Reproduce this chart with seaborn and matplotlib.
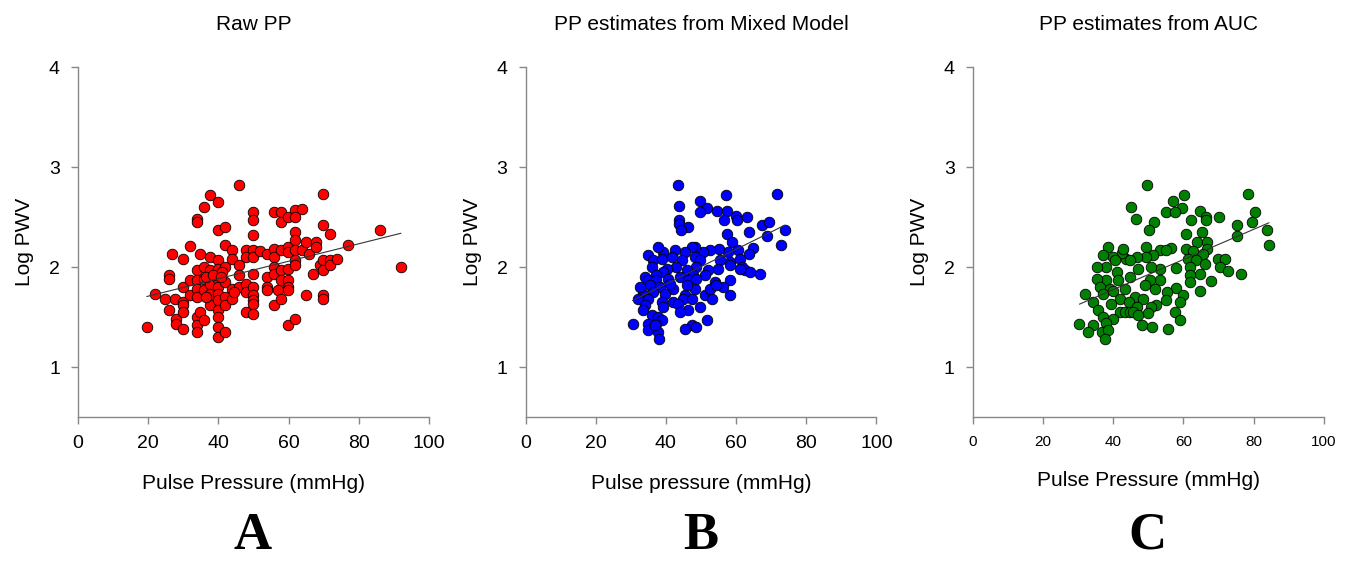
import numpy as np
import pandas as pd
import matplotlib
matplotlib.use("Agg")
import matplotlib.pyplot as plt
import seaborn as sns

# panel A: raw PP
raw_pp = [19.6, 21.8, 24.9, 25.8, 25.8, 25.8, 26.8, 27.7, 27.9, 27.9, 29.8, 29.8, 29.8, 29.8, 29.8, 29.8,
          31.9, 31.9, 31.9, 33.9, 33.9, 33.9, 33.9, 33.9, 33.9, 33.9, 33.9, 33.9, 34.8, 34.8, 35.8, 35.8,
          35.8, 35.8, 36.0, 37.7, 37.7, 37.7, 37.7, 37.7, 37.7, 39.8, 39.8, 39.8, 39.8, 39.8, 39.8, 39.8,
          39.8, 39.8, 39.8, 39.8, 39.8, 42.0, 42.0, 42.0, 42.0, 42.0, 42.0, 42.0, 43.8, 43.8, 43.8, 43.8,
          45.8, 45.8, 45.8, 45.8, 47.9, 47.9, 47.9, 47.9, 47.9, 49.8, 49.8, 49.8, 49.8, 49.8, 49.8, 49.8,
          49.8, 49.8, 49.8, 49.8, 51.9, 53.8, 53.8, 53.8, 53.8, 55.7, 55.7, 55.7, 55.7, 55.7, 55.7, 56.9,
          57.9, 57.9, 57.9, 57.9, 57.9, 57.9, 59.9, 59.9, 59.9, 59.9, 59.9, 59.9, 59.9, 59.9, 61.9, 61.9,
          61.9, 61.9, 61.9, 61.9, 61.9, 61.9, 63.9, 63.9, 64.9, 64.9, 65.8, 66.9, 67.8, 67.8, 69.0, 69.7,
          69.7, 69.7, 69.7, 69.7, 69.7, 71.8, 71.8, 71.8, 73.9, 76.9, 85.9, 92.0,
          36.5, 38.5, 41.0, 44.5, 36.5, 40.8]
raw_pwv = [1.40, 1.73, 1.68, 1.57, 1.92, 1.88, 2.13, 1.68, 1.48, 1.43, 2.08, 1.80, 1.65, 1.62, 1.55, 1.38,
           2.21, 1.87, 1.72, 2.48, 2.45, 1.97, 1.87, 1.78, 1.70, 1.50, 1.42, 1.35, 2.13, 1.55, 2.60, 2.00,
           1.88, 1.77, 1.47, 2.72, 2.10, 1.97, 1.83, 1.73, 1.62, 2.65, 2.37, 2.07, 1.98, 1.88, 1.80, 1.73,
           1.67, 1.57, 1.50, 1.40, 1.30, 2.40, 2.22, 2.00, 1.85, 1.70, 1.62, 1.35, 2.17, 2.08, 1.78, 1.68,
           2.82, 2.02, 1.92, 1.80, 2.17, 2.10, 1.83, 1.75, 1.55, 2.55, 2.47, 2.32, 2.17, 2.10, 1.93, 1.80,
           1.72, 1.67, 1.63, 1.53, 2.16, 2.13, 1.90, 1.80, 1.77, 2.55, 2.18, 2.10, 2.00, 1.93, 1.62, 1.77,
           2.55, 2.45, 2.17, 1.97, 1.87, 1.68, 2.50, 2.20, 2.15, 1.98, 1.87, 1.80, 1.77, 1.42, 2.57, 2.50,
           2.35, 2.27, 2.17, 2.07, 2.02, 1.48, 2.58, 2.17, 2.25, 1.72, 2.13, 1.93, 2.25, 2.20, 2.02, 2.73,
           2.42, 2.07, 1.97, 1.72, 1.68, 2.33, 2.07, 2.02, 2.08, 2.22, 2.37, 2.00,
           1.90, 1.92, 1.95, 1.75, 1.70, 1.90]

# panel B: PP estimates from mixed model
mm_pp = [43.5, 57.1, 71.7, 49.7, 43.8, 51.8, 49.7, 54.6, 57.5, 56.5, 60.1, 63.0, 43.8, 43.8, 46.4, 44.2,
         60.3, 67.5, 69.4, 63.7, 73.9, 68.9, 72.7, 57.3, 58.7, 64.7, 63.7, 60.6, 57.8, 55.2, 52.5, 50.6,
         48.3, 47.3, 45.4, 42.6, 39.2, 37.8, 35.0, 36.4, 38.8, 41.6, 44.5, 48.3, 49.7, 55.4, 58.2, 61.1,
         48.7, 45.9, 43.0, 40.2, 35.9, 54.9, 58.2, 61.6, 62.5, 63.9, 66.8, 52.1, 51.1, 47.8, 39.2, 37.3,
         34.0, 35.0, 37.3, 40.7, 44.0, 46.4, 48.7, 54.0, 58.2, 35.4, 38.3, 42.1, 48.3, 56.3, 33.5, 36.4,
         39.7, 45.4, 51.1, 58.2, 32.1, 35.0, 38.8, 42.1, 45.0, 47.3, 53.0, 34.0, 39.2, 43.5, 49.7, 46.4,
         33.5, 44.0, 35.9, 37.8, 38.8, 51.6, 30.5, 35.0, 37.3, 47.3, 45.4, 48.7, 35.0, 37.8, 38.1, 36.9,
         32.6, 41.1, 45.9, 52.5, 54.4, 61.1]
mm_pwv = [2.82, 2.72, 2.73, 2.66, 2.61, 2.59, 2.55, 2.56, 2.56, 2.47, 2.51, 2.50, 2.47, 2.43, 2.40, 2.37,
          2.47, 2.42, 2.45, 2.35, 2.37, 2.31, 2.22, 2.33, 2.25, 2.19, 2.13, 2.17, 2.15, 2.18, 2.17, 2.15,
          2.20, 2.20, 2.15, 2.17, 2.15, 2.20, 2.12, 2.07, 2.08, 2.10, 2.07, 2.10, 2.07, 2.07, 2.05, 2.08,
          2.00, 1.97, 2.00, 1.98, 2.00, 1.98, 2.02, 2.00, 1.97, 1.95, 1.93, 1.97, 1.92, 1.92, 1.95, 1.92,
          1.90, 1.87, 1.87, 1.88, 1.90, 1.87, 1.88, 1.85, 1.87, 1.82, 1.80, 1.78, 1.78, 1.80, 1.73, 1.75,
          1.73, 1.72, 1.72, 1.72, 1.68, 1.68, 1.65, 1.65, 1.68, 1.68, 1.68, 1.62, 1.60, 1.63, 1.60, 1.57,
          1.57, 1.55, 1.52, 1.50, 1.47, 1.47, 1.43, 1.43, 1.43, 1.42, 1.38, 1.40, 1.37, 1.35, 1.28, 1.42,
          1.80, 1.83, 1.82, 1.78, 1.82, 1.98]

# panel C: PP estimates from AUC
auc_pp = [49.8, 60.2, 57.1, 78.4, 45.0, 59.7, 55.2, 57.6, 64.9, 46.4, 51.7, 50.3, 62.3, 66.6, 66.6, 70.2,
          80.3, 79.6, 75.3, 75.3, 83.8, 84.4, 60.7, 65.4, 63.9, 66.8, 66.8, 60.9, 62.8, 65.6, 56.6, 53.3,
          51.4, 49.5, 49.5, 46.7, 43.8, 42.4, 40.0, 38.6, 37.0, 61.3, 63.7, 66.1, 69.9, 71.8, 70.4, 72.7,
          76.5, 68.0, 64.7, 61.8, 61.8, 61.8, 57.8, 53.3, 50.9, 47.1, 38.1, 35.3, 44.8, 41.0, 53.3, 50.4,
          49.0, 38.1, 35.3, 41.4, 36.2, 39.1, 43.3, 51.9, 58.0, 55.4, 59.9, 64.9, 32.0, 37.2, 40.0, 46.2,
          48.4, 55.2, 34.3, 41.9, 44.6, 39.5, 52.3, 50.9, 46.7, 35.8, 41.9, 43.3, 44.8, 45.7, 50.0, 47.1,
          57.6, 37.2, 40.0, 30.4, 34.3, 38.1, 48.1, 51.2, 55.7, 59.2, 32.9, 36.7, 38.6, 37.7, 59.0, 42.9,
          40.5, 44.8, 55.2]
auc_pwv = [2.82, 2.72, 2.66, 2.73, 2.60, 2.59, 2.55, 2.55, 2.56, 2.48, 2.45, 2.37, 2.47, 2.50, 2.47, 2.50,
           2.55, 2.45, 2.42, 2.31, 2.37, 2.22, 2.33, 2.35, 2.25, 2.25, 2.18, 2.18, 2.16, 2.13, 2.19, 2.17,
           2.12, 2.20, 2.10, 2.10, 2.08, 2.14, 2.10, 2.20, 2.12, 2.08, 2.07, 2.03, 2.08, 2.08, 2.00, 1.96,
           1.93, 1.86, 1.93, 2.00, 1.92, 1.85, 1.99, 1.98, 2.00, 1.98, 2.00, 2.00, 1.90, 1.95, 1.87, 1.87,
           1.82, 1.87, 1.88, 1.87, 1.80, 1.78, 1.78, 1.78, 1.79, 1.75, 1.72, 1.76, 1.73, 1.73, 1.76, 1.70,
           1.68, 1.67, 1.65, 1.68, 1.65, 1.63, 1.62, 1.60, 1.60, 1.57, 1.55, 1.55, 1.55, 1.55, 1.54, 1.52,
           1.55, 1.50, 1.48, 1.43, 1.42, 1.44, 1.42, 1.40, 1.38, 1.47, 1.35, 1.35, 1.37, 1.28, 1.65, 2.18,
           2.07, 2.07, 2.17]

titles = ["Raw PP", "PP estimates from Mixed Model", "PP estimates from AUC"]
xlabels = ["Pulse Pressure (mmHg)", "Pulse pressure (mmHg)", "Pulse Pressure (mmHg)"]
letters = ["A", "B", "C"]
colors = ["#ff0000", "#0000ff", "#008000"]

sns.set_style("ticks")
plt.rcParams["font.family"] = ["Liberation Sans", "DejaVu Sans"]
plt.rcParams["text.color"] = "black"
plt.rcParams["axes.labelcolor"] = "black"

fig = plt.figure(figsize=(13.59, 5.64), dpi=100)
lefts = [78 / 1359, 525.5 / 1359, 972.7 / 1359]
panels = [(raw_pp, raw_pwv), (mm_pp, mm_pwv), (auc_pp, auc_pwv)]

for i, (xs, ys) in enumerate(panels):
    ax = fig.add_axes([lefts[i], 147 / 564, 351 / 1359, 350 / 564])
    df = pd.DataFrame({"pp": xs, "pwv": ys})
    sns.regplot(data=df, x="pp", y="pwv", ax=ax, ci=None, color=colors[i],
                scatter_kws=dict(s=58, edgecolor="black", linewidths=0.6, alpha=1),
                line_kws=dict(color="#333333", lw=0.8))
    ax.set_xlim(0, 100)
    ax.set_ylim(0.5, 4)
    ax.set_xticks([0, 20, 40, 60, 80, 100])
    ax.set_yticks([1, 2, 3, 4])
    for s in ["top", "right"]:
        ax.spines[s].set_visible(False)
    for s in ["left", "bottom"]:
        ax.spines[s].set_color("#888888")
        ax.spines[s].set_linewidth(1.0)
    ax.tick_params(colors="#888888", labelcolor="black", length=5, width=1, pad=8)
    ax.tick_params(axis="y", labelsize=14)
    ax.tick_params(axis="x", labelsize=11 if i == 2 else 14)
    ax.set_xlabel(xlabels[i], fontsize=15, labelpad=16)
    ax.set_ylabel("Log PWV", fontsize=15)
    ax.yaxis.set_label_coords(-0.125, 0.5)
    ax.set_title(titles[i], fontsize=15, pad=27, color="black")
    fig.text(lefts[i] + 175 / 1359, 0.05, letters[i], ha="center", va="center", color="black",
             fontsize=38, fontweight="bold", family=["Liberation Serif", "DejaVu Serif"])

fig.savefig("out.png", dpi=100)
